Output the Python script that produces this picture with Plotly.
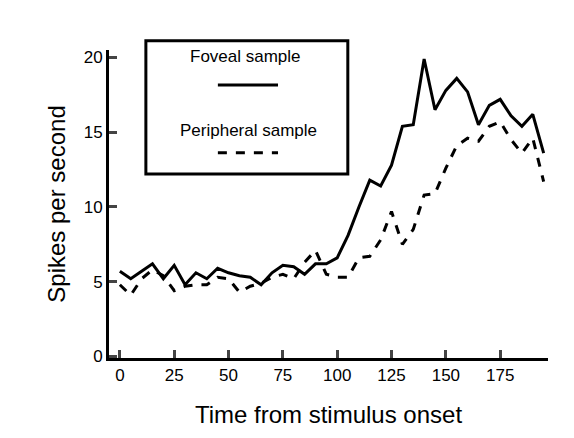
import plotly.graph_objects as go

time_ms = list(range(0, 200, 5))
foveal = [5.7, 5.2, 5.7, 6.2, 5.2, 6.1, 4.8, 5.6, 5.2, 5.9, 5.6, 5.4, 5.3, 4.8, 5.6, 6.1, 6.0, 5.5, 6.2, 6.2,
          6.6, 8.1, 10.0, 11.8, 11.4, 12.8, 15.4, 15.5, 19.9, 16.5, 17.8, 18.6, 17.7, 15.5, 16.8, 17.2, 16.1, 15.4, 16.2, 13.6]
peripheral = [4.8, 4.1, 5.2, 5.8, 5.4, 4.4, 4.7, 4.8, 4.8, 5.3, 5.2, 4.3, 4.7, 4.9, 5.3, 5.5, 5.2, 6.3, 7.1, 5.5,
              5.3, 5.3, 6.6, 6.7, 7.8, 9.7, 7.5, 8.5, 10.8, 10.9, 12.6, 14.1, 14.6, 14.4, 15.4, 15.7, 14.5, 13.6, 14.6, 11.7]
x_ticks = [0, 25, 50, 75, 100, 125, 150, 175]
y_ticks = [0, 5, 10, 15, 20]

fig = go.Figure()
fig.add_trace(go.Scatter(x=time_ms, y=foveal, mode="lines", line=dict(color="black", width=3)))
fig.add_trace(go.Scatter(x=time_ms, y=peripheral, mode="lines", line=dict(color="black", width=3, dash="dash")))

axis_font = dict(family="Liberation Sans, Arial", size=17, color="black")
fig.update_xaxes(range=[-5, 197], tickvals=x_ticks, ticks="inside", ticklen=8, tickwidth=3,
                 showline=True, linewidth=3, linecolor="black", showgrid=False, zeroline=False,
                 tickfont=axis_font, automargin=False,
                 title=dict(text="Time from stimulus onset", font=dict(family="Liberation Sans, Arial", size=24, color="black"), standoff=22))
fig.update_yaxes(range=[-0.1, 20.5], tickvals=y_ticks, ticks="inside", ticklen=8, tickwidth=3,
                 showline=True, linewidth=3, linecolor="black", showgrid=False, zeroline=False,
                 tickfont=axis_font, automargin=False,
                 title=dict(text="Spikes per second", font=dict(family="Liberation Sans, Arial", size=24, color="black"), standoff=12))

# legend box drawn by hand
fig.add_shape(type="rect", xref="paper", yref="paper", x0=0.084, x1=0.544, y0=0.597, y1=1.03,
              line=dict(color="black", width=3), fillcolor="white")
fig.add_shape(type="line", xref="paper", yref="paper", x0=0.248, x1=0.385, y0=0.886, y1=0.886,
              line=dict(color="black", width=3))
fig.add_shape(type="line", xref="paper", yref="paper", x0=0.248, x1=0.385, y0=0.666, y1=0.666,
              line=dict(color="black", width=3, dash="dash"))
leg_font = dict(family="Liberation Sans, Arial", size=17, color="black")
fig.add_annotation(text="Foveal sample", xref="paper", yref="paper", x=0.312, y=0.98, xanchor="center",
                   yanchor="middle", showarrow=False, font=leg_font)
fig.add_annotation(text="Peripheral sample", xref="paper", yref="paper", x=0.317, y=0.74, xanchor="center",
                   yanchor="middle", showarrow=False, font=leg_font)

fig.update_layout(width=574, height=438, showlegend=False, plot_bgcolor="white", paper_bgcolor="white",
                  margin=dict(l=101, r=34, t=42, b=88))
fig.write_html("out.html")
